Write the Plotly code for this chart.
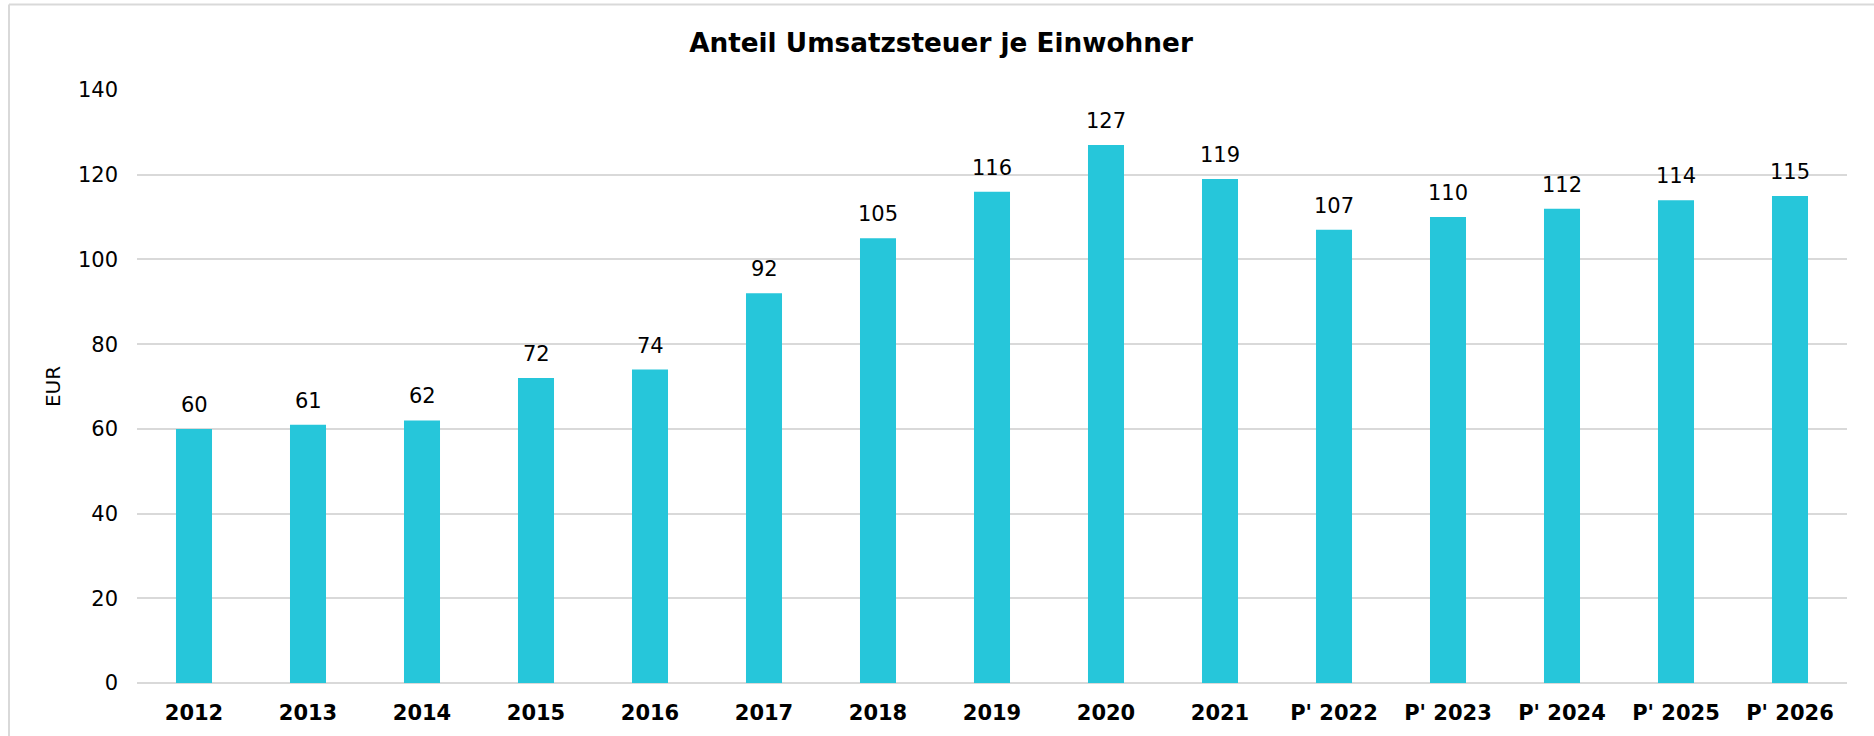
import plotly.graph_objects as go

categories = ["2012", "2013", "2014", "2015", "2016", "2017", "2018", "2019", "2020", "2021",
              "P' 2022", "P' 2023", "P' 2024", "P' 2025", "P' 2026"]
values = [60, 61, 62, 72, 74, 92, 105, 116, 127, 119, 107, 110, 112, 114, 115]
y_ticks = [0, 20, 40, 60, 80, 100, 120, 140]

W, H = 1874, 736
ML, MR, MT, MB = 137, 27, 90, 53
FONT = "Verdana, DejaVu Sans, sans-serif"
BAR = "#26C6DA"
GRID = "#d9d9d9"
FS = 21

fig = go.Figure()
fig.add_trace(go.Bar(x=categories, y=values, marker=dict(color=BAR, line=dict(width=0)),
                     hoverinfo="x+y"))

# category axis: annotation x given as category index
for i, v in enumerate(values):
    fig.add_annotation(x=i, y=v, text=str(v), showarrow=False, yanchor="bottom",
                       yshift=10, font=dict(family=FONT, size=FS, color="#000000"))

pw = W - ML - MR
ph = H - MT - MB
def px_x(p):
    return (p - ML) / pw
def px_y(p):
    return (H - MB - p) / ph

# chart frame (left and top edges)
fig.add_shape(type="line", xref="paper", yref="paper", x0=px_x(9), x1=px_x(9),
              y0=px_y(4.5), y1=px_y(H + 5), line=dict(color=GRID, width=2), layer="below")
fig.add_shape(type="line", xref="paper", yref="paper", x0=px_x(9), x1=px_x(W + 5),
              y0=px_y(4.5), y1=px_y(4.5), line=dict(color=GRID, width=2), layer="below")

fig.update_layout(
    width=W, height=H,
    margin=dict(l=ML, r=MR, t=MT, b=MB, autoexpand=False),
    paper_bgcolor="white", plot_bgcolor="white",
    bargap=0.684,
    showlegend=False,
    title=dict(text="<b>Anteil Umsatzsteuer je Einwohner</b>", x=941 / W, xref="container",
               xanchor="center", y=1 - 43 / H, yref="container", yanchor="middle",
               font=dict(family=FONT, size=26.3, color="#000000")),
    font=dict(family=FONT, size=FS, color="#000000"),
    xaxis=dict(type="category", tickfont=dict(family=FONT, size=FS, color="#000000", weight="bold"),
               showgrid=False, showline=False, ticks="", ticklabelstandoff=15, fixedrange=True),
    yaxis=dict(range=[0, 140.01], tickvals=y_ticks, showgrid=True, gridcolor=GRID, gridwidth=2,
               zeroline=True, zerolinecolor=GRID, zerolinewidth=2,
               showline=False, ticks="", ticklabelstandoff=18,
               tickfont=dict(family=FONT, size=FS, color="#000000"),
               title=dict(text="EUR", font=dict(family=FONT, size=20, color="#000000"), standoff=11),
               fixedrange=True),
)

fig.write_html("out.html", config={"displayModeBar": False},
               post_script="document.body.style.margin='0px';")
